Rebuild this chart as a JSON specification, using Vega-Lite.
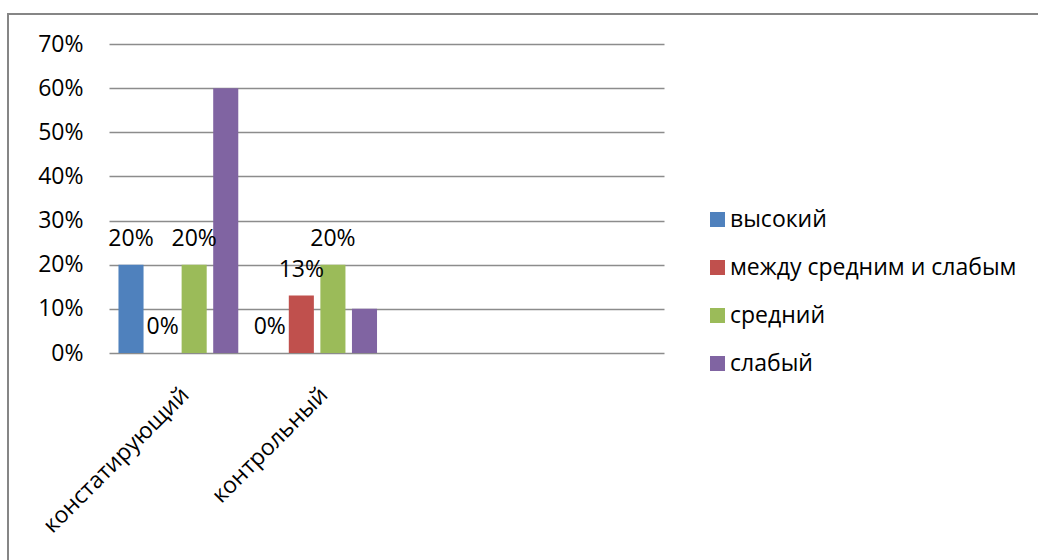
{
  "$schema": "https://vega.github.io/schema/vega-lite/v6.json",
  "width": 1040,
  "height": 560,
  "autosize": {"type": "none"},
  "padding": {"left": 8, "top": 14, "right": 0, "bottom": 0},
  "background": "white",
  "config": {
    "view": {"stroke": "#868686", "strokeWidth": 2},
    "font": "Open Sans",
    "axis": {"labelFont": "Open Sans", "labelFontSize": 23, "labelColor": "#000000"}
  },
  "data": {
    "values": [
      {"stage": "констатирующий", "level": "высокий", "value": 0.2},
      {"stage": "констатирующий", "level": "между средним и слабым", "value": 0},
      {"stage": "констатирующий", "level": "средний", "value": 0.2},
      {"stage": "констатирующий", "level": "слабый", "value": 0.6},
      {"stage": "контрольный", "level": "высокий", "value": 0},
      {"stage": "контрольный", "level": "между средним и слабым", "value": 0.13},
      {"stage": "контрольный", "level": "средний", "value": 0.2},
      {"stage": "контрольный", "level": "слабый", "value": 0.1}
    ]
  },
  "encoding": {
    "x": {
      "field": "stage",
      "type": "nominal",
      "sort": null,
      "scale": {"domain": ["констатирующий", "контрольный", "c3", "c4"], "range": [101, 656], "paddingInner": 0, "paddingOuter": 0},
      "axis": {
        "title": null,
        "domain": false,
        "ticks": false,
        "tickSize": 0,
        "grid": false,
        "offset": -221,
        "labelPadding": 38,
        "labelOffset": 7,
        "labelAngle": -45,
        "labelAlign": "right",
        "labelBaseline": "middle",
        "labelOverlap": false,
        "labelBound": false,
        "labelLimit": 400,
        "labelExpr": "datum.value == 'c3' || datum.value == 'c4' ? '' : datum.value"
      }
    },
    "xOffset": {
      "field": "level",
      "type": "nominal",
      "scale": {"domain": ["высокий", "между средним и слабым", "средний", "слабый"], "paddingInner": 0.206, "paddingOuter": 0.3}
    },
    "y": {
      "field": "value",
      "type": "quantitative",
      "scale": {"domain": [0, 0.7], "range": [339, 30], "nice": false, "zero": true},
      "axis": {
        "title": null,
        "domain": false,
        "ticks": false,
        "tickSize": 0,
        "labelPadding": 0,
        "offset": -75,
        "values": [0, 0.1, 0.2, 0.3, 0.4, 0.5, 0.6, 0.7],
        "format": ".0%",
        "grid": true,
        "gridColor": "#8c8c8c",
        "gridWidth": 1.5
      }
    }
  },
  "layer": [
    {
      "mark": {"type": "bar"},
      "encoding": {
        "color": {
          "field": "level",
          "type": "nominal",
          "scale": {
            "domain": ["высокий", "между средним и слабым", "средний", "слабый"],
            "range": ["#4F81BD", "#C0504D", "#9BBB59", "#8064A2"]
          },
          "legend": {
            "title": null,
            "orient": "none",
            "legendX": 698,
            "legendY": 194,
            "padding": 0,
            "symbolType": "square",
            "symbolSize": 225,
            "symbolStrokeWidth": 0,
            "labelFont": "Open Sans",
            "labelFontSize": 23,
            "labelColor": "#000000",
            "labelOffset": 1,
            "rowPadding": 24,
            "labelLimit": 400
          }
        }
      }
    },
    {
      "transform": [{"filter": "datum.level !== 'слабый'"}],
      "mark": {"type": "text", "dy": -26, "fontSize": 23, "font": "Open Sans", "color": "#000000", "baseline": "middle"},
      "encoding": {
        "text": {"field": "value", "type": "quantitative", "format": ".0%"}
      }
    }
  ]
}
